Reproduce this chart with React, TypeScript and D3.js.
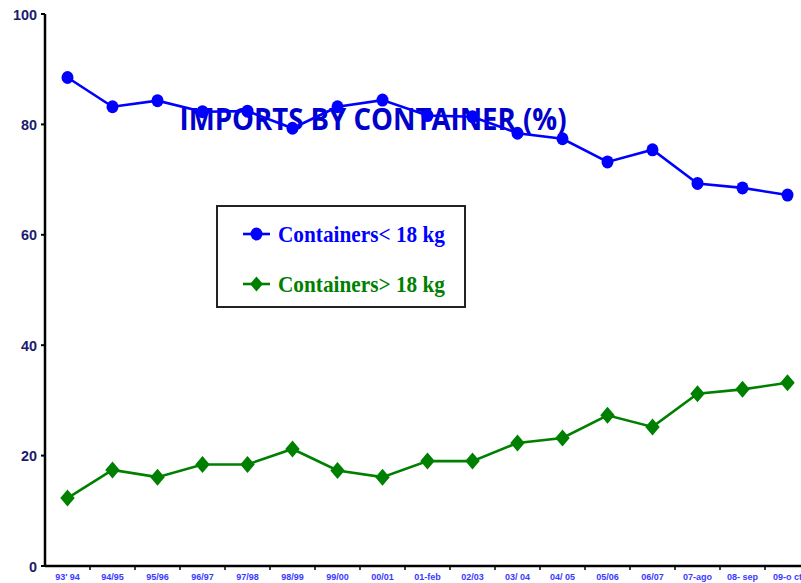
import React from "react";
import * as d3 from "d3";

const categories = ["93' 94", "94/95", "95/96", "96/97", "97/98", "98/99", "99/00", "00/01", "01-feb", "02/03", "03/ 04", "04/ 05", "05/06", "06/07", "07-ago", "08- sep", "09-o ct"];
const smallContainers = [88.5, 83.2, 84.3, 82.3, 82.4, 79.3, 83.2, 84.4, 81.6, 81.4, 78.4, 77.4, 73.2, 75.4, 69.3, 68.5, 67.2];
const largeContainers = [12.3, 17.4, 16.1, 18.4, 18.4, 21.2, 17.3, 16.1, 19.0, 19.0, 22.3, 23.2, 27.3, 25.2, 31.2, 32.0, 33.2];
const yTicks = [0, 20, 40, 60, 80, 100];
const title = "IMPORTS BY CONTAINER  (%)";
const legendLabels = ["Containers< 18 kg", "Containers> 18 kg"];

export default function App() {
  const W = 801, H = 583;
  const x0 = 45, x1 = 810, yTop = 14, yBot = 566;
  const x = d3.scaleBand<string>().domain(categories).range([x0, x1]);
  const y = d3.scaleLinear().domain([0, 100]).range([yBot, yTop]);
  const cx = (c: string) => (x(c) as number) + x.bandwidth() / 2;
  const line = d3.line<number>().x((_, i) => cx(categories[i])).y((v) => y(v));
  const blue = "#0000ff", green = "#008000";
  const diamond = (px: number, py: number, r: number) => `M${px},${py - r}L${px + r * 0.85},${py}L${px},${py + r}L${px - r * 0.85},${py}Z`;
  const boundaries = categories.map((c) => x(c) as number).slice(1);

  return (
    <svg width={W} height={H} style={{ position: "absolute", left: 0, top: 0, background: "#fff" }}>
      <rect x={0} y={0} width={W} height={H} fill="#fff" />
      {/* axes */}
      <line x1={x0} y1={yTop} x2={x0} y2={yBot} stroke="#000" strokeWidth={2.5} />
      <line x1={x0} y1={yBot} x2={W} y2={yBot} stroke="#000" strokeWidth={2.5} />
      {yTicks.map((t) => (
        <g key={t}>
          <line x1={x0 - 4} x2={x0} y1={y(t)} y2={y(t)} stroke="#000" strokeWidth={2} />
          <text x={37} y={y(t)} dy="0.36em" textAnchor="end" fontFamily="Liberation Sans, Arial" fontWeight="bold" fontSize={15.5} fill="#1a1a6e" textLength={t === 100 ? 24 : t === 0 ? 8 : 16} lengthAdjust="spacingAndGlyphs">{t}</text>
        </g>
      ))}
      {boundaries.map((b, i) => (
        <line key={i} x1={b} x2={b} y1={yBot} y2={yBot + 4} stroke="#000" strokeWidth={1.5} />
      ))}
      {categories.map((c) => (
        <text key={c} x={cx(c)} y={580} textAnchor="middle" fontFamily="Liberation Sans, Arial" fontWeight="bold" fontSize={9} fill="#3a3aff">{c}</text>
      ))}
      {/* title */}
      <text x={373} y={130} textAnchor="middle" fontFamily="Open Sans, Noto Sans, sans-serif" fontWeight="bold" fontSize={31} fill="#0000cc" textLength={387} lengthAdjust="spacingAndGlyphs">{title}</text>
      {/* series */}
      <path d={line(smallContainers) as string} fill="none" stroke={blue} strokeWidth={2.6} />
      {smallContainers.map((v, i) => (
        <ellipse key={i} cx={cx(categories[i])} cy={y(v)} rx={6} ry={6.5} fill={blue} />
      ))}
      <path d={line(largeContainers) as string} fill="none" stroke={green} strokeWidth={2.6} />
      {largeContainers.map((v, i) => (
        <path key={i} d={diamond(cx(categories[i]), y(v), 8.5)} fill={green} />
      ))}
      {/* legend */}
      <rect x={217} y={206} width={248} height={101} fill="#fff" stroke="#222" strokeWidth={2} />
      <line x1={243} x2={270} y1={234} y2={234} stroke={blue} strokeWidth={2.6} />
      <ellipse cx={256.5} cy={234} rx={6} ry={6.5} fill={blue} />
      <text x={278} y={242} fontFamily="Liberation Serif, Times New Roman, serif" fontWeight="bold" fontSize={23} fill={blue} textLength={167} lengthAdjust="spacingAndGlyphs">{legendLabels[0]}</text>
      <line x1={243} x2={270} y1={284} y2={284} stroke={green} strokeWidth={2.6} />
      <path d={diamond(256.5, 284, 7.5)} fill={green} />
      <text x={278} y={292} fontFamily="Liberation Serif, Times New Roman, serif" fontWeight="bold" fontSize={23} fill={green} textLength={167} lengthAdjust="spacingAndGlyphs">{legendLabels[1]}</text>
    </svg>
  );
}
